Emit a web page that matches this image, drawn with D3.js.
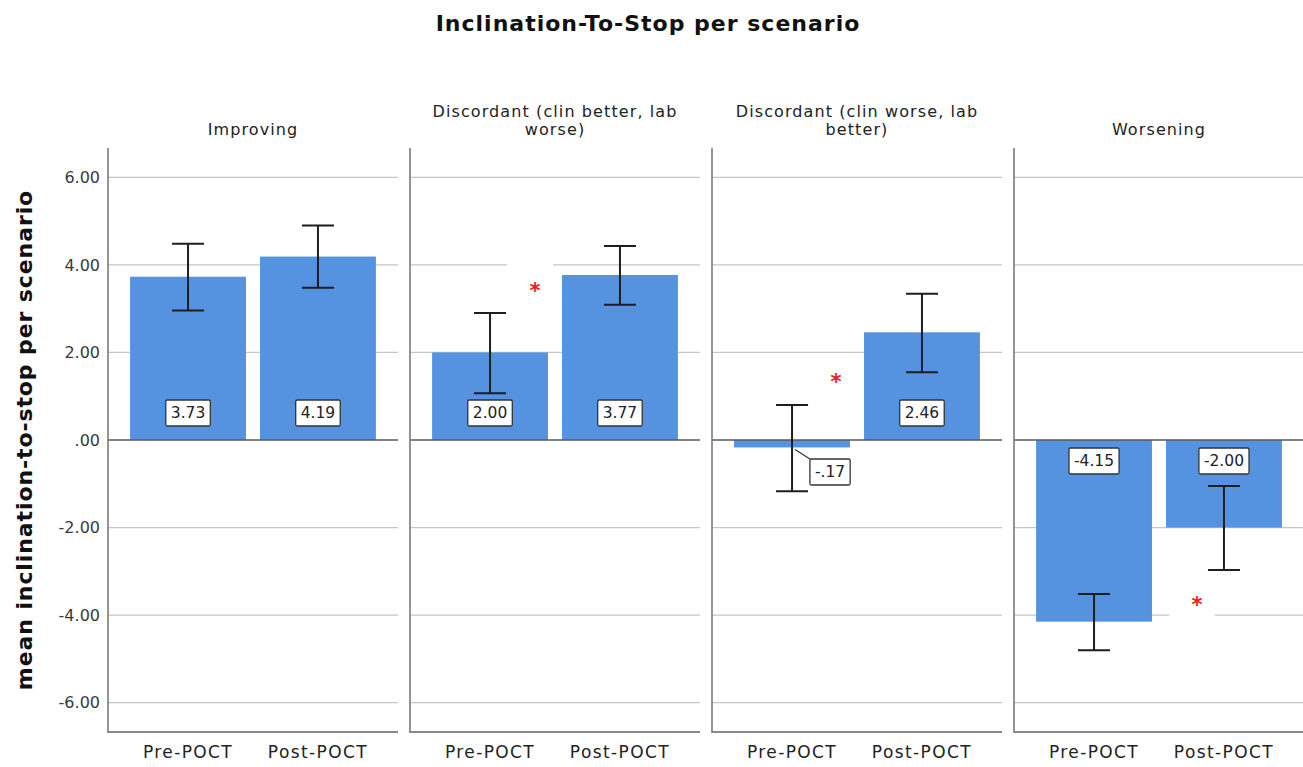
<!DOCTYPE html>
<html>
<head>
<meta charset="utf-8">
<script src="https://cdn.jsdelivr.net/npm/d3@7"></script>
<style>
  html, body { margin: 0; padding: 0; background: #fff; }
  svg { display: block; font-family: "DejaVu Sans", sans-serif; }
</style>
</head>
<body>
<svg id="chart" width="1303" height="767"></svg>
<script>
// ---- data ----
const scenarios = [
  "Improving",
  "Discordant (clin better, lab worse)",
  "Discordant (clin worse, lab better)",
  "Worsening"
];
const phases = ["Pre-POCT", "Post-POCT"];
const preMeans  = [3.73, 2.00, -0.17, -4.15];
const postMeans = [4.19, 3.77, 2.46, -2.00];
const preUpper  = [4.48, 2.90, 0.80, -3.52];
const preLower  = [2.96, 1.07, -1.17, -4.80];
const postUpper = [4.90, 4.43, 3.34, -1.05];
const postLower = [3.48, 3.09, 1.55, -2.97];
const yTicks = [6, 4, 2, 0, -2, -4, -6];
// significance markers: scenario index and vertical value
const sigScenario = [1, 2, 3];
const sigValue = [3.45, 1.37, -3.73];

const title = "Inclination-To-Stop per scenario";
const yTitle = "mean inclination-to-stop per scenario";

// ---- layout ----
const plotTop = 148, plotBottom = 732;
const starOffsets = [125, 124, 183];   // horizontal offset inside the panel
const barColor = "#5593e1";

const svg = d3.select("#chart");

const rows = [];
scenarios.forEach((s, i) => {
  rows.push({ scenario: s, phase: phases[0], mean: preMeans[i], lo: preLower[i], hi: preUpper[i] });
  rows.push({ scenario: s, phase: phases[1], mean: postMeans[i], lo: postLower[i], hi: postUpper[i] });
});

const y = d3.scaleLinear().domain([-6.67, 6.67]).range([plotBottom, plotTop]);
const xPanel = d3.scaleBand().domain(scenarios).range([108, 1304]).paddingInner(12 / 302).paddingOuter(0);
const pw = xPanel.bandwidth();
const xBar = d3.scaleBand().domain(phases).range([0, pw]).paddingInner(0.108).paddingOuter(0.17);

const locale = d3.formatLocale({ decimal: ".", thousands: ",", grouping: [3], currency: ["", ""], minus: "-" });
const f2 = locale.format(".2f");
// two decimals, leading zero dropped (".00", "-.17")
const spssFmt = v => f2(v).replace(/^(-?)0\./, "$1.");

// title
svg.append("text")
  .attr("x", 648).attr("y", 31)
  .attr("text-anchor", "middle")
  .attr("font-size", 22).attr("letter-spacing", 1).attr("font-weight", "bold").attr("fill", "#111")
  .text(title);

// y axis title
svg.append("text")
  .attr("transform", `translate(32,${y(0)}) rotate(-90)`)
  .attr("text-anchor", "middle")
  .attr("font-size", 22).attr("letter-spacing", 0.9).attr("font-weight", "bold").attr("fill", "#111")
  .text(yTitle);

// y tick labels
const yAxis = d3.axisLeft(y).tickValues(yTicks).tickSize(0).tickPadding(8).tickFormat(spssFmt);
const yg = svg.append("g").attr("transform", `translate(108,0)`).call(yAxis);
yg.select(".domain").remove();
yg.selectAll("text").attr("font-size", 16).attr("fill", "#3a3a3a").attr("font-family", "DejaVu Sans, sans-serif");

// panels
const panels = svg.selectAll("g.panel").data(scenarios).join("g")
  .attr("class", "panel")
  .attr("transform", d => `translate(${xPanel(d)},0)`);

// gridlines (non-zero)
panels.selectAll("line.grid").data(yTicks.filter(t => t !== 0)).join("line")
  .attr("class", "grid")
  .attr("x1", 0).attr("x2", pw)
  .attr("y1", d => y(d)).attr("y2", d => y(d))
  .attr("stroke", "#c6c6c6").attr("stroke-width", 1.2);

// white backing behind significance markers
sigScenario.forEach((si, k) => {
  const px = xPanel(scenarios[si]) + starOffsets[k];
  svg.append("rect")
    .attr("x", px - 28).attr("y", y(sigValue[k]) - 25)
    .attr("width", 46).attr("height", 39)
    .attr("fill", "#fff");
});

// bars
panels.selectAll("rect.bar").data(s => rows.filter(r => r.scenario === s)).join("rect")
  .attr("class", "bar")
  .attr("x", d => xBar(d.phase))
  .attr("width", xBar.bandwidth())
  .attr("y", d => y(Math.max(0, d.mean)))
  .attr("height", d => Math.abs(y(d.mean) - y(0)))
  .attr("fill", barColor);

// zero line
panels.append("line")
  .attr("x1", 0).attr("x2", pw)
  .attr("y1", y(0)).attr("y2", y(0))
  .attr("stroke", "#5a5a5a").attr("stroke-width", 1.6);

// bottom axis line
panels.append("line")
  .attr("x1", 0).attr("x2", pw)
  .attr("y1", plotBottom).attr("y2", plotBottom)
  .attr("stroke", "#8a8a8a").attr("stroke-width", 2);

// left panel border
panels.append("line")
  .attr("x1", 0).attr("x2", 0)
  .attr("y1", plotTop).attr("y2", plotBottom + 1)
  .attr("stroke", "#7a7a7a").attr("stroke-width", 1.6);

// error bars
const cap = 16;
const eb = panels.selectAll("g.err").data(s => rows.filter(r => r.scenario === s)).join("g")
  .attr("class", "err")
  .attr("transform", d => `translate(${xBar(d.phase) + xBar.bandwidth() / 2},0)`);
eb.append("line").attr("x1", 0).attr("x2", 0)
  .attr("y1", d => y(d.hi)).attr("y2", d => y(d.lo))
  .attr("stroke", "#1e1e1e").attr("stroke-width", 2);
eb.append("line").attr("x1", -cap).attr("x2", cap)
  .attr("y1", d => y(d.hi)).attr("y2", d => y(d.hi))
  .attr("stroke", "#1e1e1e").attr("stroke-width", 2);
eb.append("line").attr("x1", -cap).attr("x2", cap)
  .attr("y1", d => y(d.lo)).attr("y2", d => y(d.lo))
  .attr("stroke", "#1e1e1e").attr("stroke-width", 2);

// value labels
const boxH = 26;
panels.selectAll("g.vlab").data(s => rows.filter(r => r.scenario === s)).join("g")
  .attr("class", "vlab")
  .each(function (d) {
    const g = d3.select(this);
    const cx = xBar(d.phase) + xBar.bandwidth() / 2;
    const tall = Math.abs(y(d.mean) - y(0)) > 40;
    let bx, by;
    if (tall) {
      bx = cx;
      by = d.mean >= 0 ? y(0) - 27 : y(0) + 21;
    } else {
      // short bar: label sits beside it with a leader line
      bx = cx + 38;
      by = y(0) + 32;
    }
    const t = g.append("text")
      .attr("x", bx).attr("y", by)
      .attr("text-anchor", "middle").attr("dominant-baseline", "central")
      .attr("font-size", 15.5).attr("fill", "#222")
      .text(spssFmt(d.mean));
    const w = t.node().getComputedTextLength() + 10;
    g.insert("rect", "text")
      .attr("x", bx - w / 2).attr("y", by - boxH / 2)
      .attr("width", w).attr("height", boxH)
      .attr("fill", "#fff").attr("stroke", "#333").attr("stroke-width", 1.3).attr("rx", 1.5);
    if (!tall) {
      g.insert("line", "rect")
        .attr("x1", cx + 3).attr("y1", y(d.mean) + 2)
        .attr("x2", bx - w / 2).attr("y2", by - boxH / 2)
        .attr("stroke", "#333").attr("stroke-width", 1.2);
    }
  });

// significance markers
sigScenario.forEach((si, k) => {
  svg.append("text")
    .attr("x", xPanel(scenarios[si]) + starOffsets[k]).attr("y", y(sigValue[k]) + 9)
    .attr("text-anchor", "middle")
    .attr("font-size", 21).attr("font-weight", "bold").attr("fill", "#ee1c1c")
    .text("*");
});

// panel headers, wrapped to panel width
const headSize = 16, headSpacing = 1.1;
panels.each(function (s) {
  const g = d3.select(this);
  const words = s.split(" ");
  const maxW = 245;
  const lines = [];
  let line = [];
  const probe = g.append("text").attr("font-size", headSize).attr("letter-spacing", headSpacing);
  words.forEach(w => {
    const test = line.concat(w).join(" ");
    probe.text(test);
    if (probe.node().getComputedTextLength() > maxW && line.length) {
      lines.push(line.join(" "));
      line = [w];
    } else line.push(w);
  });
  lines.push(line.join(" "));
  probe.remove();
  const lastY = 135;
  lines.forEach((l, i) => {
    g.append("text")
      .attr("x", pw / 2).attr("y", lastY - (lines.length - 1 - i) * 18)
      .attr("text-anchor", "middle")
      .attr("font-size", headSize).attr("letter-spacing", headSpacing).attr("fill", "#222")
      .text(l);
  });
});

// category labels
panels.selectAll("text.cat").data(phases).join("text")
  .attr("class", "cat")
  .attr("x", d => xBar(d) + xBar.bandwidth() / 2)
  .attr("y", 758)
  .attr("text-anchor", "middle")
  .attr("font-size", 17).attr("letter-spacing", 1.4).attr("fill", "#222")
  .text(d => d);
</script>
</body>
</html>
